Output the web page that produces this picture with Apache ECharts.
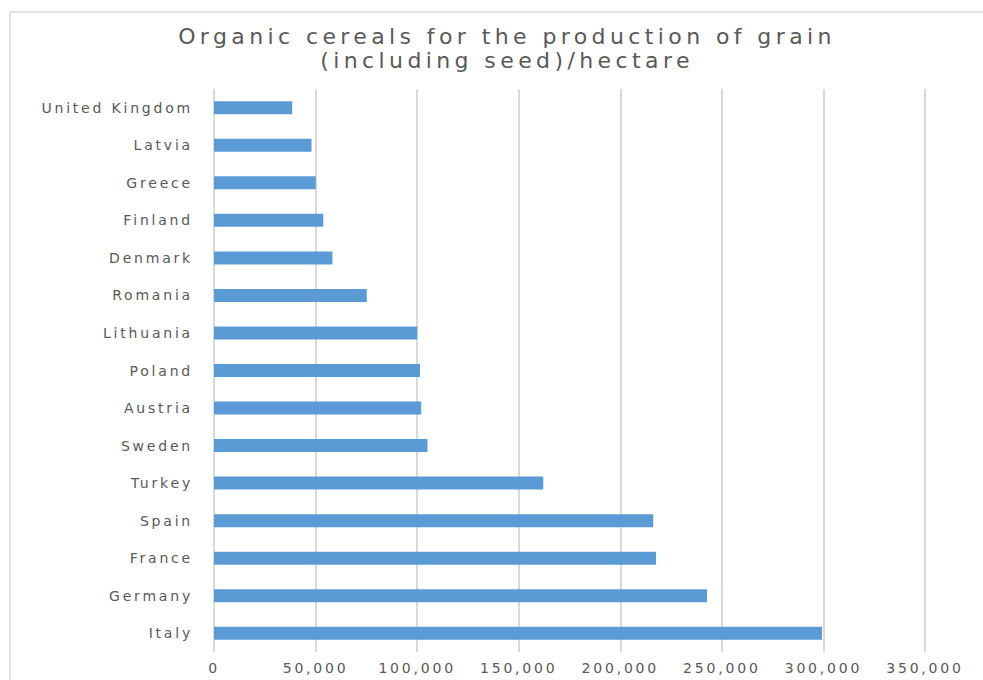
<!DOCTYPE html>
<html>
<head>
<meta charset="utf-8">
<script src="https://cdn.jsdelivr.net/npm/echarts@6/dist/echarts.min.js"></script>
<style>
  html, body { margin: 0; padding: 0; background: #ffffff; }
  #chart { width: 983px; height: 680px; }
  /* wide, airy lettering for every label */
  #chart text { letter-spacing: 0.2em; }
</style>
</head>
<body>
<div id="chart"></div>
<script>
// Countries, listed top to bottom
const countries = [
  'United Kingdom', 'Latvia', 'Greece', 'Finland', 'Denmark', 'Romania',
  'Lithuania', 'Poland', 'Austria', 'Sweden', 'Turkey', 'Spain',
  'France', 'Germany', 'Italy'
];
// Organic cereal area for grain production (hectares)
const hectares = [
  38500, 48000, 50100, 53800, 58300, 75200,
  100000, 101400, 102000, 105100, 162100, 216200,
  217600, 242700, 299300
];
const axisMin = 0;
const axisMax = 350000;
const axisStep = 50000;
const titleLines = ['Organic cereals for the production of grain', '(including seed)/hectare'];

const labelColor = '#595959';
const fontFamily = '"DejaVu Sans", "Open Sans", sans-serif';

const chart = echarts.init(document.getElementById('chart'), null, { renderer: 'svg' });
chart.setOption({
  backgroundColor: '#ffffff',
  animation: false,
  graphic: [{
    type: 'rect',
    shape: { x: 10, y: 12, width: 1000, height: 700 },
    style: { fill: 'none', stroke: '#d9d9d9', lineWidth: 1.5 },
    silent: true
  }],
  title: {
    text: titleLines.join('\n'),
    left: 502,
    top: 19,
    textAlign: 'center',
    textStyle: {
      color: labelColor,
      fontFamily: fontFamily,
      fontSize: 22,
      fontWeight: 'normal',
      lineHeight: 24
    }
  },
  grid: { left: 214, right: 58, top: 89, bottom: 28, containLabel: false },
  xAxis: {
    type: 'value',
    min: axisMin,
    max: axisMax,
    interval: axisStep,
    axisLine: { show: false },
    axisTick: { show: false },
    splitLine: { show: true, lineStyle: { color: '#d9d9d9', width: 2 } },
    axisLabel: {
      color: labelColor,
      fontFamily: fontFamily,
      fontSize: 14,
      margin: 9,
      formatter: v => v.toLocaleString('en-US')
    }
  },
  yAxis: {
    type: 'category',
    data: countries,
    inverse: true,
    axisLine: { show: false },
    axisTick: { show: false },
    splitLine: { show: false },
    axisLabel: {
      color: labelColor,
      fontFamily: fontFamily,
      fontSize: 14,
      margin: 21
    }
  },
  series: [{
    type: 'bar',
    data: hectares,
    barWidth: 13,
    itemStyle: { color: '#5b9bd5' }
  }]
});
</script>
</body>
</html>
